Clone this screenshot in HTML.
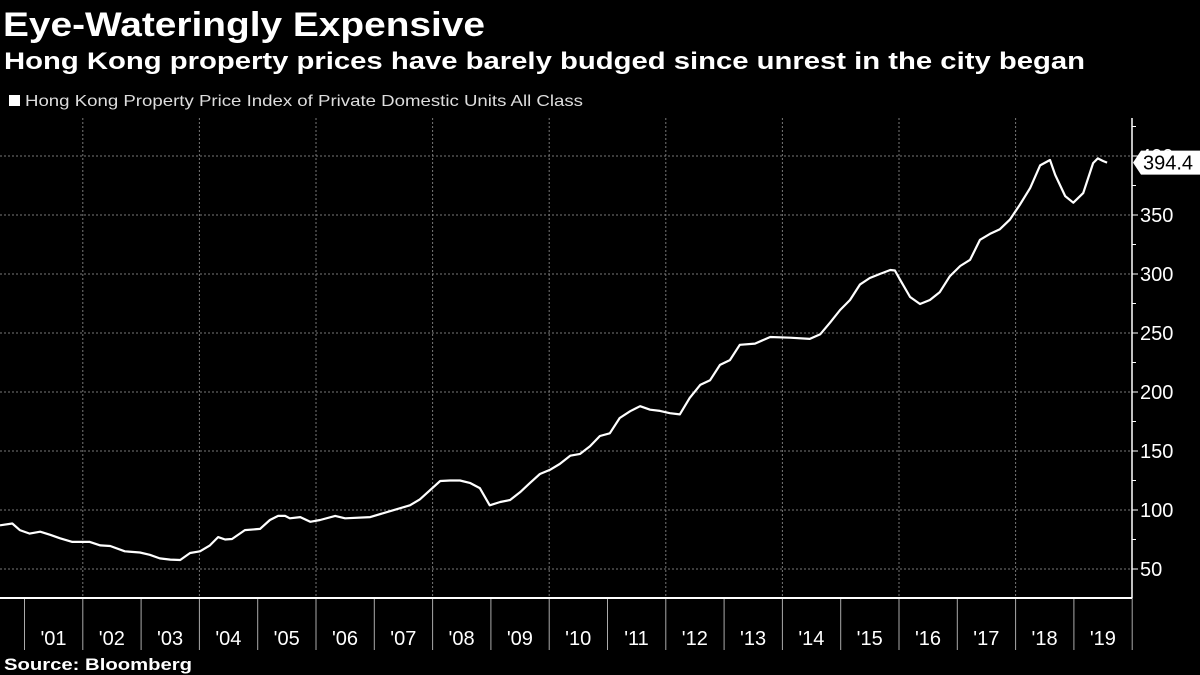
<!DOCTYPE html>
<html><head><meta charset="utf-8"><style>
html,body{margin:0;padding:0;background:#000;}
svg{display:block;font-family:"Liberation Sans",sans-serif;}
</style></head><body>
<svg id="chart" width="1200" height="675" viewBox="0 0 1200 675">
<rect width="1200" height="675" fill="#000"/>
<text x="3" y="36" fill="#fff" font-size="34" font-weight="bold" textLength="482" lengthAdjust="spacingAndGlyphs">Eye-Wateringly Expensive</text>
<text x="4" y="69" fill="#fff" font-size="24" font-weight="bold" textLength="1081" lengthAdjust="spacingAndGlyphs">Hong Kong property prices have barely budged since unrest in the city began</text>
<rect x="9" y="95" width="11" height="11" fill="#fff"/>
<text x="25" y="106" fill="#ddd" font-size="16" textLength="558" lengthAdjust="spacingAndGlyphs">Hong Kong Property Price Index of Private Domestic Units All Class</text>
<g id="grid"></g>
<g id="xaxis"></g>
<g id="yaxis"></g>
<g id="series"></g>
<text x="4" y="670" fill="#fff" font-size="17" font-weight="bold" textLength="188" lengthAdjust="spacingAndGlyphs">Source: Bloomberg</text>
</svg>
<script>
const dates=[2000.58,2000.79,2000.92,2001.09,2001.27,2001.44,2001.61,2001.82,2002.12,2002.30,2002.47,2002.72,2002.98,2003.15,2003.32,2003.50,2003.67,2003.84,2004.01,2004.18,2004.32,2004.44,2004.56,2004.78,2005.04,2005.21,2005.35,2005.47,2005.55,2005.73,2005.90,2006.07,2006.33,2006.50,2006.93,2007.27,2007.61,2007.78,2007.96,2008.13,2008.30,2008.47,2008.64,2008.81,2008.98,2009.16,2009.33,2009.50,2009.67,2009.84,2010.01,2010.18,2010.36,2010.53,2010.70,2010.87,2011.04,2011.21,2011.39,2011.56,2011.73,2011.90,2012.07,2012.24,2012.41,2012.59,2012.76,2012.93,2013.10,2013.27,2013.53,2013.79,2014.13,2014.47,2014.65,2014.82,2014.99,2015.16,2015.33,2015.50,2015.67,2015.85,2015.93,2016.02,2016.19,2016.36,2016.53,2016.70,2016.87,2017.05,2017.22,2017.39,2017.56,2017.73,2017.90,2018.07,2018.25,2018.42,2018.59,2018.68,2018.85,2018.99,2019.16,2019.33,2019.41,2019.50,2019.57];
const values=[87,88.6,83,80,81.6,79,76,73,73,70,69.5,65,64,62,59,58,57.6,63.6,65,70,77,75,75.4,83,84,91.5,95,95,93,94,90,91.5,95,93,94,99,104,109,117,124.6,125,125,123,118.6,104,106.8,108.5,115,123,130.5,134,139,146,147.5,154,162.7,165,178,183.7,188,185,184,182,181,195,206,210,223,227,240,241,246.6,246,245,249,259,269.5,278,291,296.6,300,303.4,303,295,280.5,274.6,278,284.7,298,306.8,312,329,334,338,346,358.5,373,392,396.6,384,366,360.4,368.6,394,398,395.8,394.4];
const yTicks=[50,100,150,200,250,300,350,400];
const xYears=[2001,2002,2003,2004,2005,2006,2007,2008,2009,2010,2011,2012,2013,2014,2015,2016,2017,2018,2019];
const xLabels=["'01","'02","'03","'04","'05","'06","'07","'08","'09","'10","'11","'12","'13","'14","'15","'16","'17","'18","'19"];
const lastLabel="394.4";
const NS="http://www.w3.org/2000/svg";
const X=t=>24.5+(t-2001)*58.3;
const Y=v=>569-(v-50)*1.18;
const plotTop=118,plotBottom=598,plotRight=1132;
function mk(tag,attrs,parent){const e=document.createElementNS(NS,tag);for(const k in attrs)e.setAttribute(k,attrs[k]);parent.appendChild(e);return e;}
const grid=document.getElementById('grid'),xa=document.getElementById('xaxis'),ya=document.getElementById('yaxis'),ser=document.getElementById('series');
yTicks.forEach(v=>{
 const l=mk('line',{x1:0,x2:plotRight,y1:Y(v),y2:Y(v),stroke:'#777','stroke-width':1,'stroke-dasharray':'2,2'},grid);
 
 
 const tk=mk('line',{x1:plotRight,x2:plotRight+6,y1:Y(v),y2:Y(v),stroke:'#fff','stroke-width':1},ya);
 
 
 const t=mk('text',{x:plotRight+8,y:Y(v)+7,fill:'#fff','font-size':20},ya);
 t.textContent=v;
 
 
});
yTicks.forEach(v=>{const m=v+25;if(Y(m)>plotTop){const tk=mk('line',{x1:plotRight,x2:plotRight+4,y1:Y(m),y2:Y(m),stroke:'#fff','stroke-width':1},ya);
 
 }});
const ax=mk('line',{x1:plotRight,x2:plotRight,y1:plotTop,y2:plotBottom,stroke:'#fff','stroke-width':1.5},ya);


xYears.forEach((yr,i)=>{
 const x=X(yr);
 if(yr%2===0){const g=mk('line',{x1:x,x2:x,y1:plotTop,y2:plotBottom,stroke:'#777','stroke-width':1,'stroke-dasharray':'2,2'},grid);
 
 }
 const tk=mk('line',{x1:x,x2:x,y1:plotBottom,y2:650,stroke:'#aaa','stroke-width':1},xa);
 
 
 const t=mk('text',{x:x+29,y:645,fill:'#fff','font-size':20,'text-anchor':'middle'},xa);
 t.textContent=xLabels[i];
 
 
});
{const t=mk('line',{x1:X(2020),x2:X(2020),y1:plotBottom,y2:650,stroke:'#aaa','stroke-width':1},xa);
 
 }
const xl=mk('line',{x1:0,x2:plotRight,y1:plotBottom,y2:plotBottom,stroke:'#fff','stroke-width':2},xa);


const d=dates.map((t,i)=>(i?'L':'M')+X(t).toFixed(1)+','+Y(values[i]).toFixed(1)).join('');
const p=mk('path',{d:d,fill:'none',stroke:'#fff','stroke-width':2.2,'stroke-linejoin':'round'},ser);


const ly=Y(values[values.length-1]);
const box=mk('path',{d:`M1133,${ly} L1141,${ly-12} L1200,${ly-12} L1200,${ly+12} L1141,${ly+12} Z`,fill:'#fff'},ser);


const lt=mk('text',{x:1143,y:ly+7,fill:'#000','font-size':20},ser);
lt.textContent=lastLabel;


</script>
</body></html>
